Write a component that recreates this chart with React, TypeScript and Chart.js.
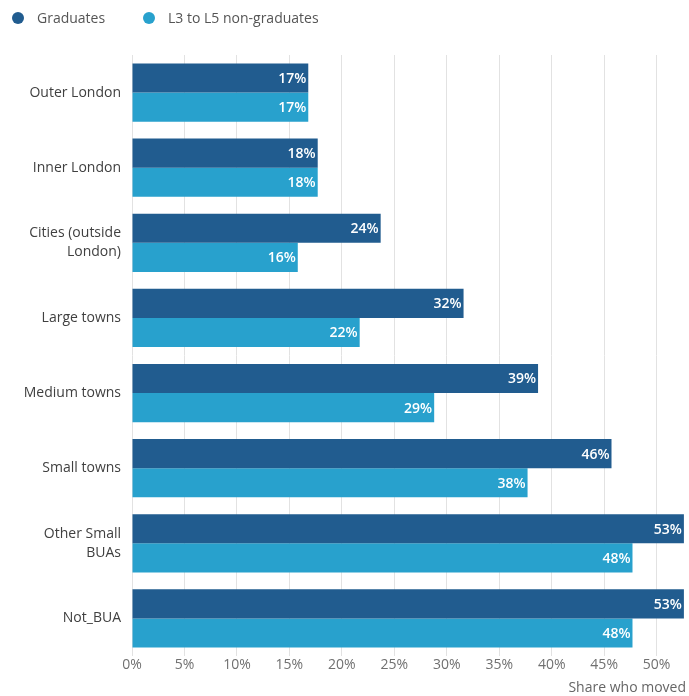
import React, { useEffect, useRef } from "react";
import { Chart, registerables } from "chart.js";

Chart.register(...registerables);

const categories: (string | string[])[] = [
  "Outer London",
  "Inner London",
  ["Cities (outside", "London)"],
  "Large towns",
  "Medium towns",
  "Small towns",
  ["Other Small", "BUAs"],
  "Not_BUA",
];
const graduates = [16.8, 17.7, 23.7, 31.6, 38.7, 45.7, 52.6, 52.6];
const nonGraduates = [16.8, 17.7, 15.8, 21.7, 28.8, 37.7, 47.7, 47.7];
const seriesNames = ["Graduates", "L3 to L5 non-graduates"];
const seriesColors = ["#215c8f", "#28a1cd"];
const xTicks = [0, 5, 10, 15, 20, 25, 30, 35, 40, 45, 50];
const axisTitle = "Share who moved";

const FONT = "'Open Sans', 'Noto Sans', sans-serif";

const valueLabels = {
  id: "valueLabels",
  afterDatasetsDraw(chart: any) {
    const ctx = chart.ctx;
    ctx.save();
    ctx.font = `600 14px ${FONT}`;
    ctx.fillStyle = "#ffffff";
    ctx.textAlign = "right";
    ctx.textBaseline = "middle";
    chart.data.datasets.forEach((ds: any, di: number) => {
      const meta = chart.getDatasetMeta(di);
      meta.data.forEach((bar: any, i: number) => {
        const v = ds.data[i];
        ctx.fillText(Math.round(v) + "%", bar.x - 2, bar.y + 1);
      });
    });
    ctx.restore();
  },
};

const legendPos = [
  { dot: 18, text: 37 },
  { dot: 149, text: 168 },
];

export default function App() {
  const ref = useRef<HTMLCanvasElement>(null);
  useEffect(() => {
    const chart = new Chart(ref.current!, {
      type: "bar",
      data: {
        labels: categories,
        datasets: [
          {
            label: seriesNames[0],
            data: graduates,
            backgroundColor: seriesColors[0],
            borderWidth: 0,
            categoryPercentage: 0.775,
            barPercentage: 1,
          },
          {
            label: seriesNames[1],
            data: nonGraduates,
            backgroundColor: seriesColors[1],
            borderWidth: 0,
            categoryPercentage: 0.775,
            barPercentage: 1,
          },
        ],
      },
      options: {
        indexAxis: "y",
        animation: false,
        responsive: false,
        layout: { padding: { left: 0, right: 3, top: 55, bottom: 0 } },
        scales: {
          x: {
            min: 0,
            max: 52.8,
            afterBuildTicks: (scale: any) => {
              scale.ticks = xTicks.map((v) => ({ value: v }));
            },
            afterFit: (scale: any) => {
              scale.height = 40;
            },
            ticks: {
              callback: (v: any) => v + "%",
              color: "#707070",
              font: { family: FONT, size: 14 },
              padding: 1,
              maxRotation: 0,
            },
            grid: { color: "#e2e2e2", drawTicks: false },
            border: { display: false },
            title: {
              display: true,
              text: axisTitle,
              align: "end",
              color: "#666",
              font: { family: FONT, size: 14 },
              padding: { top: 0, bottom: 0 },
            },
          },
          y: {
            afterFit: (scale: any) => {
              scale.width = 132;
            },
            ticks: {
              color: "#404040",
              font: { family: FONT, size: 14, lineHeight: 1.35 },
              padding: 11,
            },
            grid: { display: false, drawTicks: false },
            border: { display: false },
          },
        },
        plugins: {
          legend: { display: false },
          tooltip: { enabled: false },
        },
      },
      plugins: [valueLabels],
    } as any);
    return () => chart.destroy();
  }, []);
  return (
    <div
      style={{
        position: "fixed",
        left: 0,
        top: 0,
        width: 689,
        height: 696,
        background: "#fff",
        fontFamily: FONT,
      }}
    >
      <canvas ref={ref} width={689} height={696} style={{ display: "block" }} />
      {seriesNames.map((name, i) => (
        <React.Fragment key={name}>
          <span
            style={{
              position: "absolute",
              left: legendPos[i].dot - 6,
              top: 12,
              width: 12,
              height: 12,
              borderRadius: "50%",
              background: seriesColors[i],
            }}
          />
          <span
            style={{
              position: "absolute",
              left: legendPos[i].text,
              top: 8,
              fontSize: 14,
              lineHeight: "20px",
              color: "#555",
              whiteSpace: "nowrap",
            }}
          >
            {name}
          </span>
        </React.Fragment>
      ))}
    </div>
  );
}
